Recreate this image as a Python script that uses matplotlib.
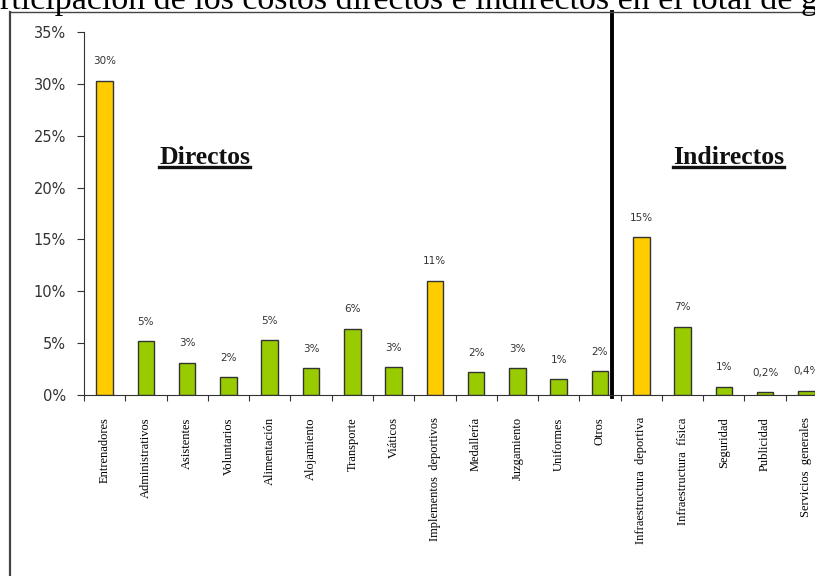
import numpy as np
import matplotlib
matplotlib.use('Agg')
import matplotlib.pyplot as plt
from matplotlib.lines import Line2D

# %% data
categorias = ['Entrenadores', 'Administrativos', 'Asistentes', 'Voluntarios',
              'Alimentación', 'Alojamiento', 'Transporte', 'Viáticos',
              'Implementos  deportivos', 'Medallería', 'Juzgamiento', 'Uniformes',
              'Otros', 'Infraestructura  deportiva', 'Infraestructura  física',
              'Seguridad', 'Publicidad', 'Servicios  generales']
valores = [30.3, 5.2, 3.1, 1.7, 5.3, 2.6, 6.4, 2.7, 11.0, 2.2, 2.6, 1.5,
           2.3, 15.2, 6.6, 0.8, 0.25, 0.4]
etiquetas = ['30%', '5%', '3%', '2%', '5%', '3%', '6%', '3%', '11%', '2%', '3%',
             '1%', '2%', '15%', '7%', '1%', '0,2%', '0,4%']
destacados = ['Entrenadores', 'Implementos  deportivos', 'Infraestructura  deportiva']
n_directos = 13

# %% plot
fig = plt.figure(figsize=(8.15, 5.76), dpi=100)
ax = fig.add_axes([84/815, 1-395/576, 743/815, 363/576])

x = np.arange(len(categorias))
colores = ['#FFCC00' if c in destacados else '#99CC00' for c in categorias]
ax.bar(x, valores, width=0.4, color=colores, edgecolor='#333333', linewidth=1)

for xi, v, t in zip(x, valores, etiquetas):
    ax.annotate(t, (xi, v), xytext=(0, 14), textcoords='offset points',
                ha='center', va='center', fontsize=7.5, color='#333333',
                family='DejaVu Sans')

ax.set_xlim(-0.5, len(categorias) - 0.5)
ax.set_ylim(0, 35)
ax.set_yticks(np.arange(0, 36, 5))
ax.set_yticklabels([f'{v}%' for v in range(0, 36, 5)], fontsize=10.5, color='#333333')
ax.set_xticks(np.arange(len(categorias) + 1) - 0.5)
ax.set_xticklabels([])
ax.set_xticks(x, minor=True)
ax.set_xticklabels(categorias, minor=True, rotation=90, va='top',
                   family='Liberation Serif', fontsize=9)
ax.tick_params(axis='x', which='minor', length=0, pad=16)
ax.tick_params(axis='x', which='major', length=4, direction='out', color='#333333')
ax.tick_params(axis='y', length=5, direction='out', color='#333333', pad=8)
for s in ['top', 'right']:
    ax.spines[s].set_visible(False)
for s in ['left', 'bottom']:
    ax.spines[s].set_color('#333333')

# vertical divider between directos / indirectos
xdiv = n_directos - 0.5 - 0.22
ax.plot([xdiv, xdiv], [-0.005, 1.055], color='black', lw=2.8,
        transform=ax.get_xaxis_transform(), clip_on=False)

# group titles with underline
titulos = [(2.43, 'Directos'), (15.12, 'Indirectos')]
txts = []
for xt, t in titulos:
    txts.append(ax.text(xt, 22.9, t, ha='center', va='center', fontsize=18.5,
                        fontweight='bold', family='Liberation Serif', color='#111111'))
fig.canvas.draw()
r = fig.canvas.get_renderer()
for tx in txts:
    bb = tx.get_window_extent(r)
    yl = bb.y0 + 2
    fig.add_artist(Line2D([bb.x0 / fig.bbox.width, bb.x1 / fig.bbox.width],
                          [yl / fig.bbox.height, yl / fig.bbox.height],
                          color='#111111', lw=2.4))

# page frame and cropped title
fig.add_artist(Line2D([9.5/815, 9.5/815], [0, 1-12/576], color='#444444', lw=1.6))
fig.add_artist(Line2D([9.5/815, 1], [1-12/576, 1-12/576], color='#444444', lw=1))
fig.text(0.0, 1-9/576, 'rticipación de los costos directos e indirectos en el total de g',
         ha='left', va='baseline', fontsize=24.5, family='Liberation Serif', color='black')

fig.savefig('out.png', dpi=100)
